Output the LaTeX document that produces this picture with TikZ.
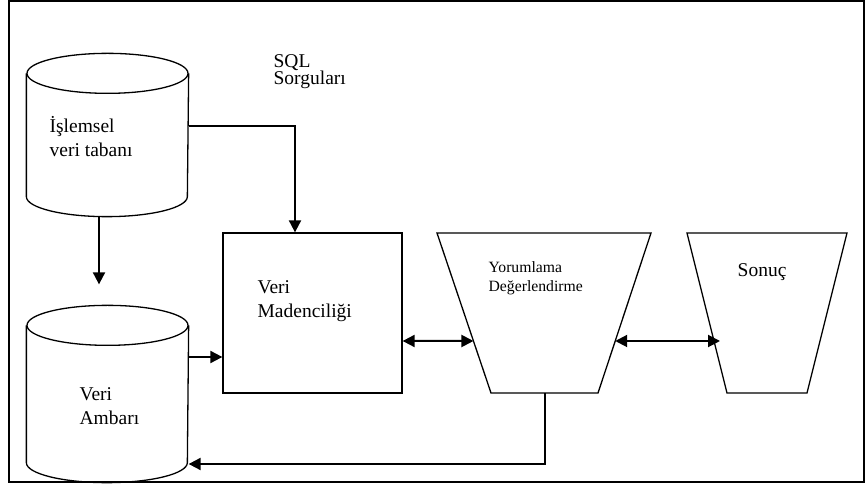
\documentclass[tikz,border=0pt]{standalone}
\usepackage{fontspec}
\setmainfont{Liberation Serif}
\usetikzlibrary{arrows.meta,calc,positioning}

\begin{document}
\begin{tikzpicture}[x=0.5pt,y=-0.5pt,line width=0.65pt,%
	arr/.style={line width=1pt,-{Triangle[length=6pt,width=6pt]}},%
	darr/.style={line width=1pt,{Triangle[length=6pt,width=6pt]}-{Triangle[length=6pt,width=6pt]}},%
	body/.style={inner sep=0pt,minimum width=80.5pt},%
	box/.style={draw,inner sep=0pt,minimum width=89.5pt,minimum height=80pt},%
	txt/.style={anchor=base west,inner sep=0pt,align=left,%
		font=\fontsize{9.75}{12}\selectfont},%
	small/.style={txt,font=\fontsize{7.85}{9.5}\selectfont}]
	\useasboundingbox (0,0) rectangle (867,485);
	\draw[line width=0.8pt] (9,1) rectangle (864,482);
	% databases
	\node[body,minimum height=61pt] (oltp) at (107.5,135) {};
	\node[body,minimum height=68pt] (dwh) at (107.5,394) {};
	\foreach \db in {oltp,dwh}{
		\draw (\db.north) ellipse[x radius=40.25pt,y radius=10pt];
		\draw (\db.north west) -- (\db.south west)
			arc[start angle=180,end angle=360,x radius=40.25pt,y radius=10pt]
			-- (\db.north east);
	}
	% mining box
	\node[box] (mine) at (312.5,313) {};
	% funnels
	\coordinate (evTL) at (437,233); \coordinate (evTR) at (651,233);
	\coordinate (evBR) at (598,393); \coordinate (evBL) at (491,393);
	\coordinate (resTL) at (687,233); \coordinate (resTR) at (847,233);
	\coordinate (resBR) at (807,393); \coordinate (resBL) at (727,393);
	\draw (evTL) -- (evTR) -- (evBR) -- (evBL) -- cycle;
	\draw (resTL) -- (resTR) -- (resBR) -- (resBL) -- cycle;
	% labels (base = last line)
	\node[txt] (oltptxt) at (49,157) {İşlemsel\\veri tabanı};
	\node[txt,font=\fontsize{9.75}{8.75}\selectfont] (sql) at (273,85) {SQL\\Sorguları};
	\node[txt] (minetxt) at (257,318) {Veri\\Madenciliği};
	\node[txt] (dwhtxt) at (79,425) {Veri\\Ambarı};
	\node[small] (evtxt) at (488,292) {Yorumlama\\Değerlendirme};
	\node[txt] (restxt) at (737,277) {Sonuç};
	% connectors
	\draw[arr] ([yshift=4.5pt]oltp.east) -| ([xshift=-8.75pt]mine.north);
	\draw[arr] ([xshift=-4.25pt,yshift=-10pt]oltp.south) -- ([xshift=-4.25pt,yshift=20.5pt]dwh.north);
	\draw[arr] ([yshift=18.5pt]dwh.east) coordinate (w1) -- (w1 -| mine.west);
	\draw[darr] ([yshift=-14pt]mine.east) -- ($(evTL)!0.675!(evBL)$);
	\draw[darr,shorten >=-3pt] ($(evTR)!0.675!(evBR)$) -- ($(resTL)!0.675!(resBL)$);
	\draw[arr] ($(evBL)!0.5!(evBR)$) |- ([yshift=-35pt]dwh.east);
\end{tikzpicture}
\end{document}
